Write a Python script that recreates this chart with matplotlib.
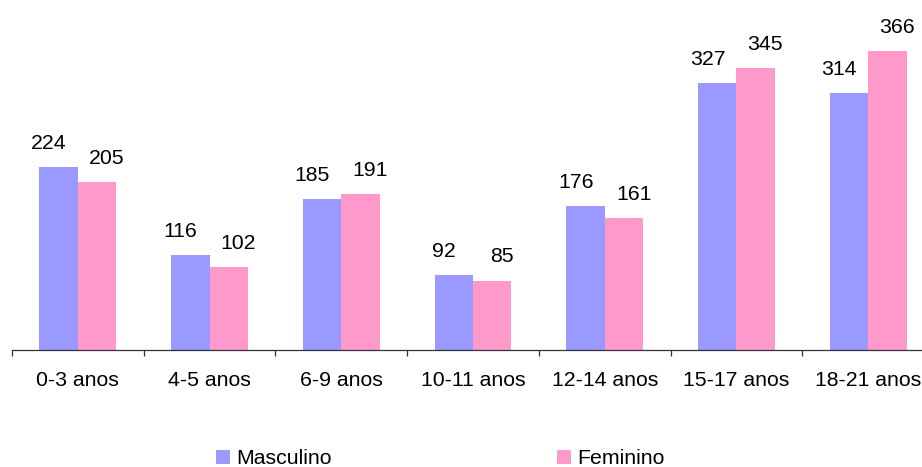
import numpy as np
import matplotlib.pyplot as plt
from matplotlib.ticker import FixedLocator

plt.rcParams['font.family'] = ['Liberation Sans', 'DejaVu Sans']

# data
categories = ['0-3 anos', '4-5 anos', '6-9 anos', '10-11 anos', '12-14 anos', '15-17 anos', '18-21 anos']
masculino = [224, 116, 185, 92, 176, 327, 314]
feminino = [205, 102, 191, 85, 161, 345, 366]

blue = '#9999FF'
pink = '#FF99CC'
fs = 15.3

fig = plt.figure(figsize=(9.22, 4.67), dpi=100)
ax = fig.add_axes([12/922, 117/467, 922/922, 327/467])

x = np.arange(len(categories))
w = 0.292
b1 = ax.bar(x - w/2, masculino, w, color=blue, label='Masculino')
b2 = ax.bar(x + w/2, feminino, w, color=pink, label='Feminino')

# value labels
for rect, v in zip(b1, masculino):
    ax.annotate(str(v), (rect.get_x() + rect.get_width()/2, v), xytext=(-7, 17),
                textcoords='offset points', ha='center', va='center', fontsize=fs)
for rect, v in zip(b2, feminino):
    ax.annotate(str(v), (rect.get_x() + rect.get_width()/2, v), xytext=(7, 17),
                textcoords='offset points', ha='center', va='center', fontsize=fs)

ax.set_xlim(-0.5, len(categories) - 0.5)
ax.set_ylim(0, 400)

for s in ['top', 'right', 'left']:
    ax.spines[s].set_visible(False)
ax.spines['bottom'].set_color('#333333')
ax.spines['bottom'].set_linewidth(0.9)
ax.set_yticks([])

ax.set_xticks(x)
ax.set_xticklabels(categories, fontsize=fs)
ax.tick_params(axis='x', which='major', length=0, pad=15)
ax.xaxis.set_minor_locator(FixedLocator(np.arange(-0.5, len(categories), 1.0)))
ax.tick_params(axis='x', which='minor', length=4.5, width=0.9, color='#333333', direction='out')

fig.legend(handles=[b1, b2], loc='lower left', bbox_to_anchor=(212/922, -0.012),
           ncol=2, frameon=False, fontsize=fs, handlelength=0.65, handleheight=0.65,
           handletextpad=0.3, columnspacing=10.6, borderpad=0.2, borderaxespad=0)

fig.savefig('out.png', dpi=100)
